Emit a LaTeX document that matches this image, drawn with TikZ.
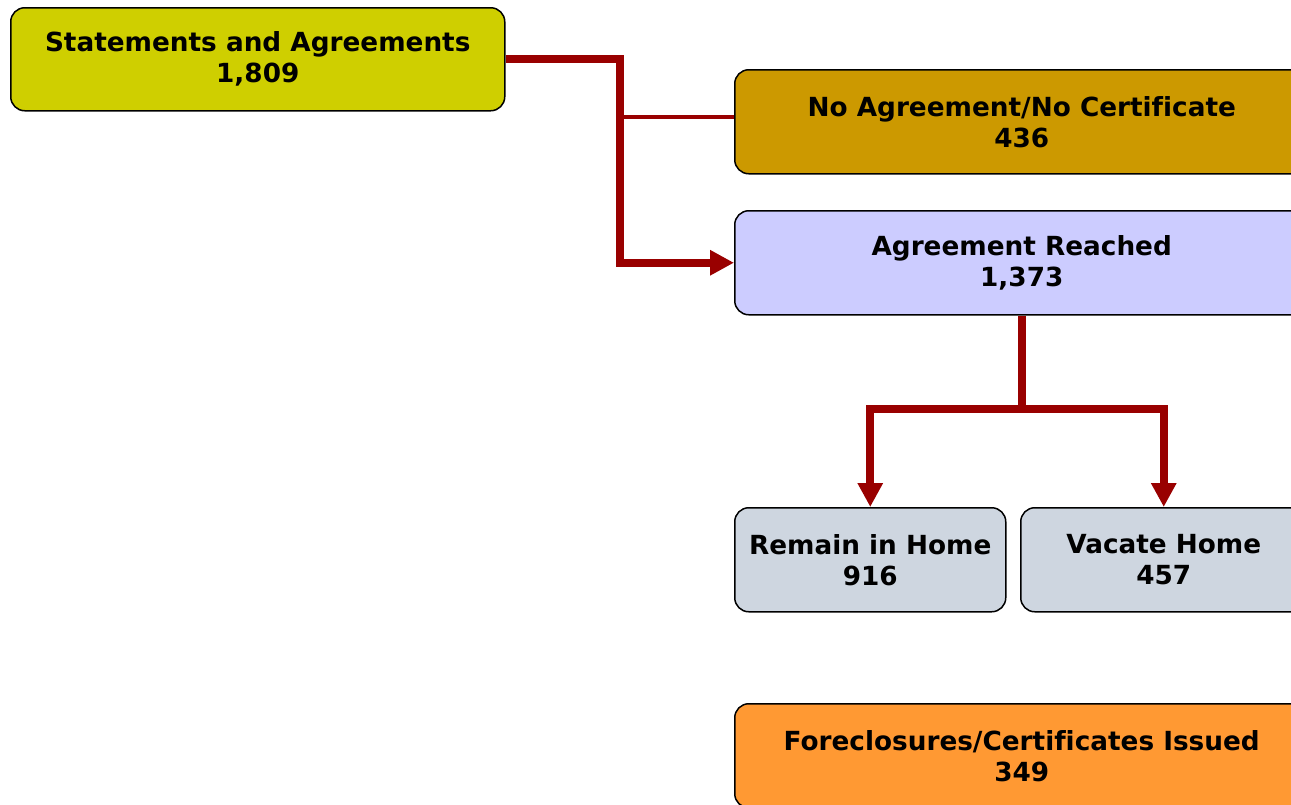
\documentclass[tikz,border=0pt]{standalone}
\usepackage{fontspec}
\setmainfont[Ligatures=NoCommon]{DejaVu Sans}
\usetikzlibrary{arrows.meta}
\definecolor{cyel}{RGB}{207,207,0}
\definecolor{cgold}{RGB}{204,153,0}
\definecolor{clav}{RGB}{204,204,255}
\definecolor{cgray}{RGB}{206,214,224}
\definecolor{corange}{RGB}{255,153,51}
\definecolor{cred}{RGB}{153,0,0}
\tikzset{
  box/.style={draw=black, line width=1.5pt, rounded corners=14pt, anchor=north west,
    align=center, inner sep=0pt, font=\fontsize{26.3}{31}\selectfont\bfseries},
  conn/.style={draw=cred, line width=8pt, line join=miter},
  thinconn/.style={draw=cred, line width=4pt},
  tip/.style={-{Triangle[length=24pt,width=24pt]}}
}
\begin{document}
\begin{tikzpicture}[x=1pt,y=-1pt]
\useasboundingbox (0,0) rectangle (1291,804);
\clip (0,0) rectangle (1291,804);
\node[box, fill=cyel, minimum width=494pt, minimum height=103pt] (b1) at (10,7) {Statements and Agreements\\1,809};
\node[box, fill=cgold, minimum width=574pt, minimum height=104pt] (b2) at (734,69) {No Agreement/No Certificate\\436};
\node[box, fill=clav, minimum width=574pt, minimum height=104pt] (b3) at (734,210) {Agreement Reached\\1,373};
\node[box, fill=cgray, minimum width=271pt, minimum height=104pt] (b4) at (734,507) {Remain in Home\\916};
\node[box, fill=cgray, minimum width=286pt, minimum height=104pt] (b5) at (1020,507) {Vacate Home\\457};
\node[box, fill=corange, minimum width=574pt, minimum height=104pt] (b6) at (734,703) {Foreclosures/Certificates Issued\\349};
\coordinate (bend) at (620,0);
\coordinate (split) at (0,409);
\coordinate (b2in) at ([yshift=5pt]b2.west);
\draw[thinconn] (bend |- b2in) -- (b2in);
\draw[conn, tip] (b1.east) -- (b1.east -| bend) -- (bend |- b3.west) -- (b3.west);
\draw[conn, tip] (b3.south) -- (b3.south |- split) -| (b4.north);
\draw[conn, tip] (b3.south |- split) -| (b5.north);
\end{tikzpicture}
\end{document}
